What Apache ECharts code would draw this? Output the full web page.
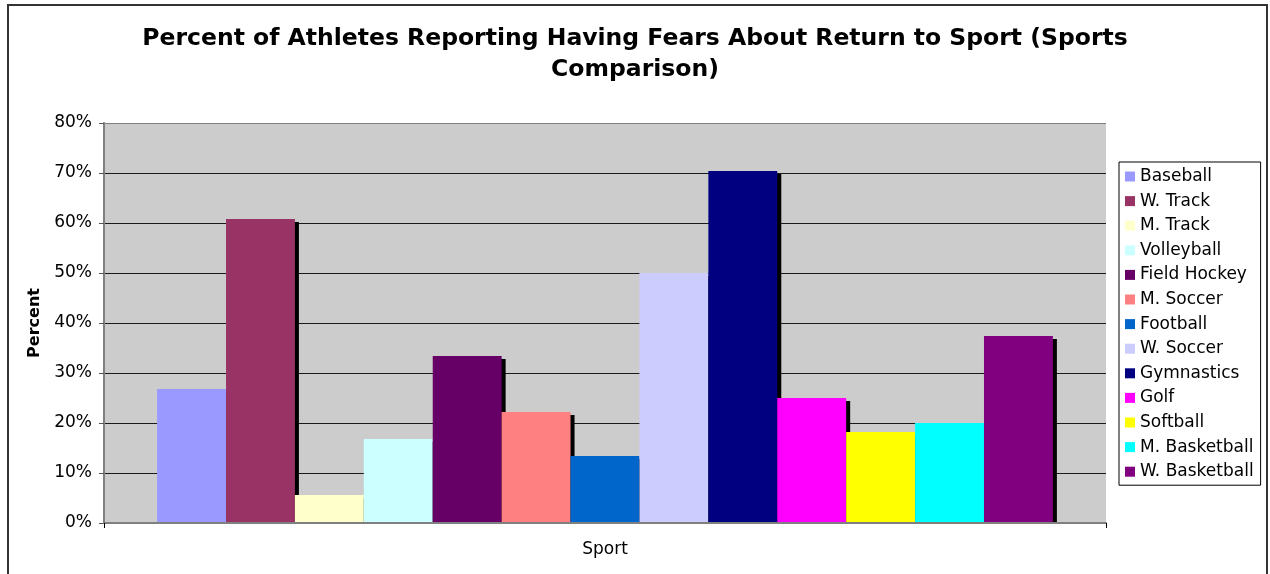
<!DOCTYPE html>
<html>
<head>
<meta charset="utf-8">
<script src="https://cdn.jsdelivr.net/npm/echarts@6/dist/echarts.min.js"></script>
<style>
html,body{margin:0;padding:0;background:#fff;}
#chart{width:1270px;height:574px;}
</style>
</head>
<body>
<div id="chart"></div>
<script>
const categories = ['Sport'];
const sports = ['Baseball','W. Track','M. Track','Volleyball','Field Hockey','M. Soccer','Football','W. Soccer','Gymnastics','Golf','Softball','M. Basketball','W. Basketball'];
const percents = [26.8, 60.8, 5.6, 16.8, 33.4, 22.2, 13.4, 50.0, 70.4, 25.0, 18.2, 20.0, 37.4];
const colors = ['#9999FF','#993366','#FFFFCC','#CCFFFF','#660066','#FF8080','#0066CC','#CCCCFF','#000080','#FF00FF','#FFFF00','#00FFFF','#800080'];
const yTicks = [0, 10, 20, 30, 40, 50, 60, 70, 80];

const FONT = '"DejaVu Sans", Verdana, sans-serif';
const chart = echarts.init(document.getElementById('chart'), null, {renderer:'canvas'});

const series = sports.map((name, i) => ({
  name: name,
  type: 'bar',
  data: [percents[i]],
  barGap: '0%',
  barCategoryGap: '10.6%',
  itemStyle: {
    color: colors[i],
    shadowColor: '#000',
    shadowBlur: 0,
    shadowOffsetX: 4,
    shadowOffsetY: 3
  },
  emphasis: {disabled: true},
  animation: false
}));

chart.setOption({
  animation: false,
  color: colors,
  title: {
    text: 'Percent of Athletes Reporting Having Fears About Return to Sport (Sports\nComparison)',
    left: 'center',
    top: 18,
    textStyle: {fontFamily: FONT, fontSize: 23.5, fontWeight: 'bold', color: '#000', lineHeight: 31}
  },
  legend: {
    orient: 'vertical',
    left: 1119,
    top: 162,
    padding: [6, 7, 5, 6],
    itemWidth: 10,
    itemHeight: 10,
    itemGap: 7.6,
    borderColor: '#000',
    borderWidth: 1,
    icon: 'rect',
    data: sports,
    itemStyle: {shadowBlur: 0, shadowOffsetX: 0, shadowOffsetY: 0, shadowColor: 'transparent'},
    textStyle: {fontFamily: FONT, fontSize: 17, color: '#000', lineHeight: 17, padding: [0,0,0,0]},
    selectedMode: false
  },
  grid: {
    left: 104, top: 123, width: 1002, height: 400,
    show: true, backgroundColor: '#cccccc', borderWidth: 0
  },
  xAxis: {
    type: 'category',
    data: categories,
    name: 'Sport',
    nameLocation: 'middle',
    nameGap: 18,
    nameTextStyle: {fontFamily: FONT, fontSize: 17, color: '#000', verticalAlign: 'top'},
    axisLine: {show: true, lineStyle: {color: '#808080', width: 2}},
    axisTick: {show: true, length: 5, lineStyle: {color: '#000', width: 1}},
    axisLabel: {show: false},
    splitLine: {show: false},
    z: 5
  },
  yAxis: {
    type: 'value',
    min: 0, max: 80, interval: 10,
    name: 'Percent',
    nameLocation: 'middle',
    nameGap: 57,
    nameTextStyle: {fontFamily: FONT, fontSize: 16, fontWeight: 'bold', color: '#000'},
    axisLine: {show: true, lineStyle: {color: '#808080', width: 2}},
    axisTick: {show: true, length: 5, inside: false, lineStyle: {color: '#555', width: 1}},
    axisLabel: {fontFamily: FONT, fontSize: 17, color: '#000', margin: 12, formatter: v => yTicks.indexOf(v) >= 0 ? v + '%' : ''},
    splitLine: {show: true, lineStyle: {color: ['#808080','#1a1a1a','#1a1a1a','#1a1a1a','#1a1a1a','#1a1a1a','#1a1a1a','#1a1a1a','#808080'], width: 1}}
  },
  graphic: [
    {type: 'rect', z: 100, silent: true, shape: {x: 150, y: 524, width: 950, height: 4}, style: {fill: '#fff'}},
    {type: 'rect', z: 100, silent: true, shape: {x: 8, y: 5, width: 1259, height: 600}, style: {fill: 'none', stroke: '#333', lineWidth: 2}}
  ],
  series: series
});
</script>
</body>
</html>
